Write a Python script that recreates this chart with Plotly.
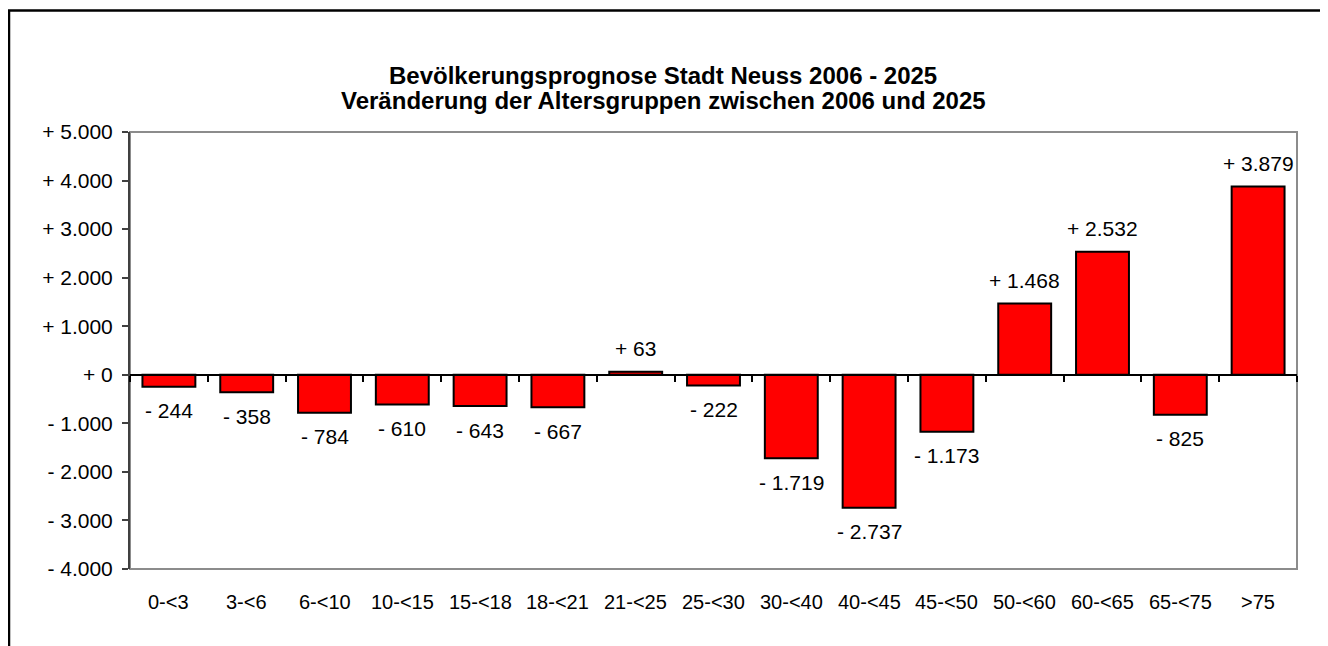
import plotly.graph_objects as go

categories = ["0-<3", "3-<6", "6-<10", "10-<15", "15-<18", "18-<21", "21-<25",
              "25-<30", "30-<40", "40-<45", "45-<50", "50-<60", "60-<65", "65-<75", ">75"]
values = [-244, -358, -784, -610, -643, -667, 63, -222, -1719, -2737, -1173, 1468, 2532, -825, 3879]
y_ticks = [-4000, -3000, -2000, -1000, 0, 1000, 2000, 3000, 4000, 5000]
title_lines = ["Bevölkerungsprognose Stadt Neuss 2006 - 2025",
               "Veränderung der Altersgruppen zwischen 2006 und 2025"]


def fmt(v):
    sign = "+ " if v >= 0 else "- "
    return sign + f"{abs(v):,}".replace(",", ".")


FONT = "Liberation Sans, Arial, sans-serif"
FS = 21

# page geometry (the page body has an 8px margin)
PL, PR, PT, PB = 130, 1297, 132, 569
OFF = 8
W, H = 1320, 638
PW, PH = PR - PL, PB - PT


def px(x):
    return (x - PL) / PW


def py(y):
    return (PB - y) / PH


fig = go.Figure()
fig.add_trace(go.Bar(
    x=categories, y=values,
    marker=dict(color="#FF0000", line=dict(color="#000000", width=2)),
    hoverinfo="x+y",
))

annotations = []
for c, v in zip(categories, values):
    annotations.append(dict(
        x=c, y=v, xref="x", yref="y", text=fmt(v), showarrow=False,
        yanchor="middle", yshift=23 if v >= 0 else -24,
        font=dict(family=FONT, size=FS, color="#000000"),
    ))
for c in categories:
    annotations.append(dict(
        x=c, y=0, xref="x", yref="paper", text=c, showarrow=False,
        yanchor="middle", yshift=-33,
        font=dict(family=FONT, size=20, color="#000000"),
    ))
for line, ypos in zip(title_lines, [75, 100]):
    annotations.append(dict(
        x=px(663), y=py(ypos), xref="paper", yref="paper", text=f"<b>{line}</b>",
        showarrow=False, xanchor="center", yanchor="middle",
        font=dict(family=FONT, size=24, color="#000000"),
    ))

zero_pos = (0 - y_ticks[0]) / (y_ticks[-1] - y_ticks[0])

fig.update_layout(
    width=W, height=H,
    margin=dict(l=PL - OFF, r=W - (PR - OFF), t=PT - OFF, b=H - (PB - OFF), autoexpand=False),
    paper_bgcolor="white", plot_bgcolor="white",
    showlegend=False,
    bargap=0.32,
    xaxis=dict(
        type="category", anchor="free", position=zero_pos,
        showticklabels=False, showgrid=False, zeroline=False,
        showline=True, linecolor="#000000", linewidth=2,
        ticks="outside", tickson="boundaries", ticklen=6, tickwidth=2, tickcolor="#000000",
    ),
    yaxis=dict(
        range=[y_ticks[0], y_ticks[-1]],
        tickvals=y_ticks, ticktext=[fmt(v) for v in y_ticks],
        showgrid=False, zeroline=False,
        showline=True, linecolor="#404040", linewidth=2,
        ticks="outside", ticklen=6, tickwidth=1.5, tickcolor="#404040",
        ticklabelstandoff=5,
        tickfont=dict(family=FONT, size=FS, color="#000000"),
    ),
    annotations=annotations,
    shapes=[
        dict(type="rect", xref="paper", yref="paper", x0=0, x1=1, y0=0, y1=1,
             line=dict(color="#8c8c8c", width=2), layer="below"),
        dict(type="rect", xref="paper", yref="paper",
             x0=px(9), x1=px(1325), y0=py(700), y1=py(10.5),
             line=dict(color="#000000", width=2.5), layer="above"),
    ],
)

fig.write_html("out.html")
